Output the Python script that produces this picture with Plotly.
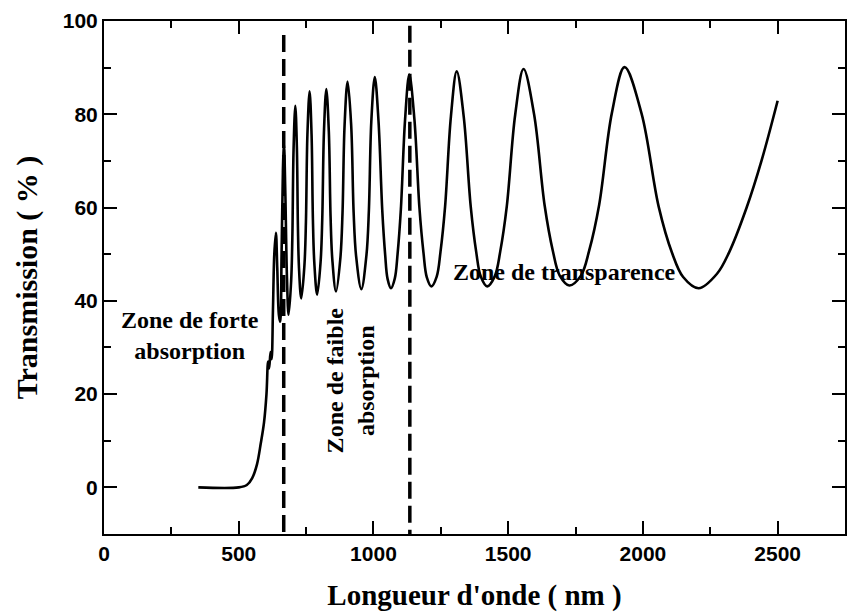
import plotly.graph_objects as go

# Wavelength (nm) and transmission (%)
wavelength = [350, 500, 530, 550, 568, 582, 594, 603, 609, 613, 618, 622, 627, 632, 638,
              643, 649, 654, 659, 664, 668, 673, 679, 685,
              694.5, 699, 703.5, 710, 715.7, 719.7, 723.6, 732,
              743.8, 749.4, 754.9, 763, 770.3, 775.3, 780.4, 791,
              803.9, 810, 816.2, 825, 834.4, 840.8, 847.3, 861,
              877.3, 885.1, 892.8, 904, 917.3, 926.4, 935.6, 955,
              974, 983, 992, 1005,
              1018.8, 1032.6, 1043.4, 1052.4, 1065, 1079.3, 1089.5, 1101.7, 1117.4, 1133,
              1151.9, 1170.7, 1185.5, 1197.8, 1215, 1234.7, 1248.8, 1265.8, 1287.4, 1309,
              1335, 1361, 1381.3, 1398.3, 1422, 1450.4, 1470.6, 1494.9, 1526, 1557,
              1596.1, 1635.2, 1665.8, 1691.3, 1727, 1770, 1800.8, 1837.7, 1884.9, 1932,
              1995.3, 2058.5, 2108, 2149.3, 2207, 2275, 2320, 2385, 2440, 2500]
transmission = [0, 0, 0.5, 2, 5, 9.5, 14, 20, 27, 25.5, 29, 27.5, 38, 50, 54.6,
                47, 37, 35.5, 50, 68, 73.5, 63, 45, 37,
                44.2, 53.6, 72.4, 81.8, 73.1, 55.8, 47.1, 40.5,
                47.6, 56.9, 75.6, 84.9, 75.7, 57.4, 48.3, 41.3,
                48.4, 57.6, 76.1, 85.4, 76.3, 58.1, 48.9, 42.0,
                49.2, 58.7, 77.6, 87.0, 77.7, 59.0, 49.6, 42.5,
                49.8, 59.3, 78.4, 88.0,
                78.5, 59.5, 49.9, 44.7, 42.7, 44.8, 50.0, 59.6, 78.9, 88.5,
                79.0, 59.9, 50.4, 45.1, 43.1, 45.2, 50.5, 60.2, 79.5, 89.2,
                79.5, 60.2, 50.5, 45.2, 43.1, 45.3, 50.6, 60.3, 79.9, 89.7,
                80.0, 60.5, 50.7, 45.4, 43.3, 45.4, 50.8, 60.6, 80.3, 90.1,
                80.1, 60.2, 50.3, 45.1, 42.7, 45.8, 50.4, 60.0, 70.0, 82.9]

zone_limits = [667, 1135]
zone_tops = [97, 99]
zone_bottom = -10

x_ticks = [0, 500, 1000, 1500, 2000, 2500]
y_ticks = [0, 20, 40, 60, 80, 100]

zone_labels = ["Zone de forte<br>absorption", "Zone de faible<br>absorption", "Zone de transparence"]
zone_label_x = [319, 914, 1708]
zone_label_y = [32.5, 23, 46.2]
zone_label_angle = [0, -90, 0]

fig = go.Figure()

for xl, yt in zip(zone_limits, zone_tops):
    fig.add_trace(go.Scatter(x=[xl, xl], y=[yt, zone_bottom], mode="lines",
                             line=dict(color="black", width=3.5, dash="17px,7px"),
                             showlegend=False, hoverinfo="skip"))

fig.add_trace(go.Scatter(x=wavelength, y=transmission, mode="lines",
                         line=dict(color="black", width=2.6, shape="spline", smoothing=1.0),
                         showlegend=False))

serif = "Liberation Serif, Times New Roman, serif"
sans = "Liberation Sans, Arial, sans-serif"

for txt, xx, yy, ang in zip(zone_labels, zone_label_x, zone_label_y, zone_label_angle):
    fig.add_annotation(x=xx, y=yy, xref="x", yref="y", text="<b>" + txt + "</b>",
                       showarrow=False, textangle=ang,
                       font=dict(family=serif, size=24, color="black"))

axis_common = dict(showline=True, linecolor="black", linewidth=2, mirror="ticks",
                   ticks="inside", ticklen=13, tickwidth=2, tickcolor="black",
                   showgrid=False, zeroline=False,
                   tickfont=dict(family=sans, size=21, color="black", weight="bold"))

fig.update_xaxes(range=[0, 2750], tickvals=x_ticks, ticktext=[str(v) for v in x_ticks],
                 minor=dict(dtick=250, tick0=0, ticks="inside", ticklen=7, tickwidth=2, tickcolor="black"),
                 title=dict(text="Longueur d'onde ( nm )",
                            font=dict(family=serif, size=29, color="black", weight="bold"),
                            standoff=20),
                 **axis_common)
fig.update_yaxes(range=[-10, 100], tickvals=y_ticks, ticktext=[str(v) for v in y_ticks],
                 minor=dict(dtick=10, tick0=0, ticks="inside", ticklen=7, tickwidth=2, tickcolor="black"),
                 title=dict(text="Transmission ( % )",
                            font=dict(family=serif, size=30, color="black", weight="bold"),
                            standoff=16),
                 **axis_common)

fig.update_layout(width=849, height=614, plot_bgcolor="white", paper_bgcolor="white",
                  margin=dict(l=104, r=4, t=21, b=80, autoexpand=False), showlegend=False)

fig.write_html("out.html")
